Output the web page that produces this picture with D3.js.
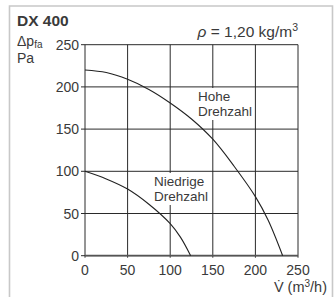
<!DOCTYPE html>
<html><head><meta charset="utf-8">
<script src="https://cdn.jsdelivr.net/npm/d3@7"></script>
<style>body{margin:0;background:#fff}svg{display:block}text{font-family:"Liberation Sans",Arial,sans-serif;fill:#3a3a3a}</style>
</head><body>
<script>
const xTicks = [0, 50, 100, 150, 200, 250];
const yTicks = [0, 50, 100, 150, 200, 250];
const highV = [0, 25, 50, 75, 100, 125, 150, 175, 200, 215, 232];
const highP = [220, 217, 209, 197, 181, 162, 138, 106, 70, 42, 0];
const lowV = [0, 25, 50, 75, 100, 112, 124];
const lowP = [100, 91, 79, 61, 38, 22, 0];

const W = 334, H = 297;
const svg = d3.select("body").append("svg").attr("width", W).attr("height", H);
const x = d3.scaleLinear().domain([0, 250]).range([85, 298]);
const y = d3.scaleLinear().domain([0, 250]).range([255.7, 44.7]);

// frame
svg.append("path").attr("d", `M9.5,${H} V6 H332.5 V${H}`).attr("fill", "none").attr("stroke", "#c8c8c8").attr("stroke-width", 1.6);

// grid
const g = svg.append("g");
g.selectAll(".vg").data(xTicks).join("line").attr("x1", d => x(d)).attr("x2", d => x(d))
  .attr("y1", y(250)).attr("y2", y(0) + 2).attr("stroke", "#2a2a2a").attr("stroke-width", 1);
g.selectAll(".hg").data(yTicks).join("line").attr("x1", x(0) - 4).attr("x2", x(250))
  .attr("y1", d => y(d)).attr("y2", d => y(d)).attr("stroke", "#2a2a2a").attr("stroke-width", 1);
g.append("line").attr("x1", x(0)).attr("x2", x(250)).attr("y1", y(0)).attr("y2", y(0)).attr("stroke", "#555").attr("stroke-width", 1.8);

// tick labels
svg.selectAll(".yl").data(yTicks).join("text").attr("x", 79).attr("y", d => y(d) + 5)
  .attr("text-anchor", "end").attr("font-size", 14).text(d => d);
svg.selectAll(".xl").data(xTicks).join("text").attr("x", d => x(d)).attr("y", 275)
  .attr("text-anchor", "middle").attr("font-size", 14).text(d => d);

// curves
const line = d3.line().x(d => x(d[0])).y(d => y(d[1])).curve(d3.curveCatmullRom.alpha(0.5));
svg.append("path").attr("d", line(highV.map((v, i) => [v, highP[i]]))).attr("fill", "none").attr("stroke", "#222").attr("stroke-width", 1.1);
svg.append("path").attr("d", line(lowV.map((v, i) => [v, lowP[i]]))).attr("fill", "none").attr("stroke", "#222").attr("stroke-width", 1.1);

// labels with white background
function label(lines, lx, ly) {
  const grp = svg.append("g");
  const rect = grp.append("rect").attr("fill", "#fff");
  const t = grp.append("text").attr("font-size", 13.5);
  lines.forEach((s, i) => t.append("tspan").attr("x", lx).attr("y", ly + i * 15).text(s));
  const b = t.node().getBBox();
  rect.attr("x", b.x - 1).attr("y", b.y - 1).attr("width", b.width + 2).attr("height", b.height + 2);
}
label(["Hohe", "Drehzahl"], 198, 101);
label(["Niedrige", "Drehzahl"], 154, 186);

// titles
svg.append("text").attr("x", 17).attr("y", 26).attr("font-size", 15.5).attr("font-weight", "bold").attr("fill", "#222").text("DX 400");
const ap = svg.append("text").attr("x", 17).attr("y", 46).attr("font-size", 14);
ap.append("tspan").text("Δp");
ap.append("tspan").attr("font-size", 10).attr("dy", 2).text("fa");
svg.append("text").attr("x", 17).attr("y", 63).attr("font-size", 14).text("Pa");
const rho = svg.append("text").attr("x", 298).attr("y", 37).attr("text-anchor", "end").attr("font-size", 15.5);
rho.append("tspan").attr("font-style", "italic").text("ρ");
rho.append("tspan").text(" = 1,20 kg/m");
rho.append("tspan").attr("font-size", 10.5).attr("dy", -6).text("3");
const vt = svg.append("text").attr("x", 327).attr("y", 292).attr("text-anchor", "end").attr("font-size", 14.5);
vt.append("tspan").text("V̇ (m");
vt.append("tspan").attr("font-size", 10).attr("dy", -5).text("3");
vt.append("tspan").attr("dy", 5).text("/h)");
</script>
</body></html>
